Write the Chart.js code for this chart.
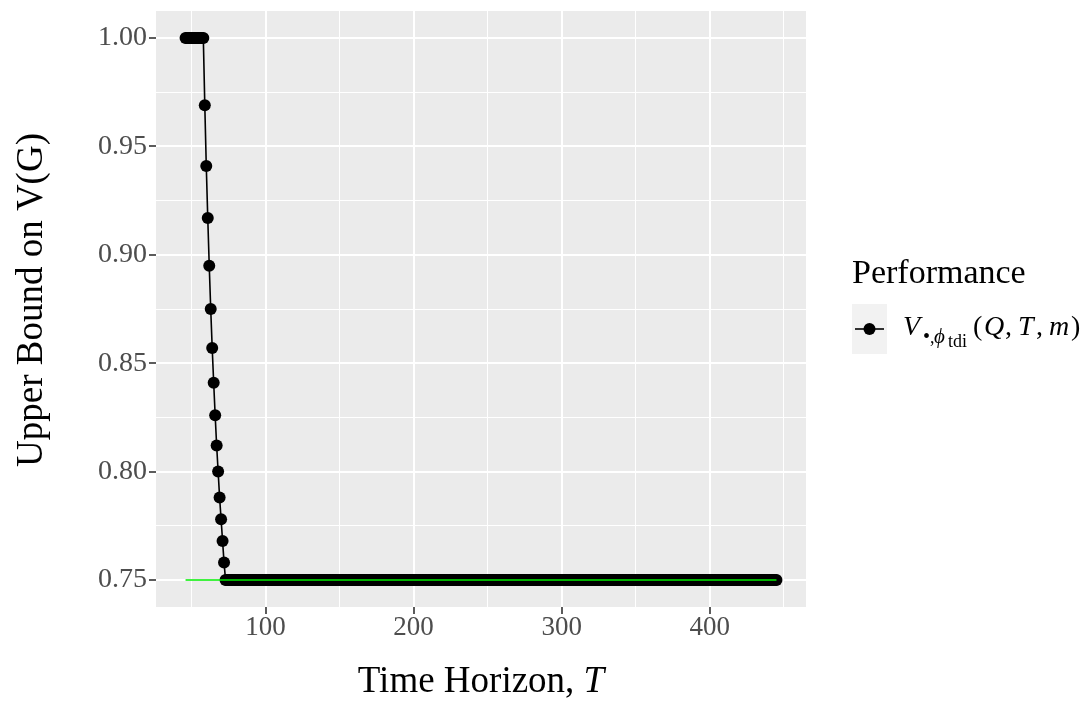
<!DOCTYPE html>
<html>
<head>
<meta charset="utf-8">
<title>Upper Bound on V(G)</title>
<script src="https://cdn.jsdelivr.net/npm/chart.js@4.4.1/dist/chart.umd.min.js"></script>
<style>
  html, body { margin: 0; padding: 0; background: #ffffff; }
  #boundChart { display: block; }
</style>
</head>
<body>
<canvas id="boundChart" width="1090" height="702"></canvas>
<script>
// time horizons T
var horizons = [
    46, 47, 48, 49, 50, 51, 52, 53, 54, 55, 56, 57, 58, 59, 60, 61, 62, 63, 64, 65,
    66, 67, 68, 69, 70, 71, 72, 73, 74, 75, 76, 77, 78, 79, 80, 81, 82, 83, 84, 85,
    86, 87, 88, 89, 90, 91, 92, 93, 94, 95, 96, 97, 98, 99, 100, 101, 102, 103, 104, 105,
    106, 107, 108, 109, 110, 111, 112, 113, 114, 115, 116, 117, 118, 119, 120, 121, 122, 123, 124, 125,
    126, 127, 128, 129, 130, 131, 132, 133, 134, 135, 136, 137, 138, 139, 140, 141, 142, 143, 144, 145,
    146, 147, 148, 149, 150, 151, 152, 153, 154, 155, 156, 157, 158, 159, 160, 161, 162, 163, 164, 165,
    166, 167, 168, 169, 170, 171, 172, 173, 174, 175, 176, 177, 178, 179, 180, 181, 182, 183, 184, 185,
    186, 187, 188, 189, 190, 191, 192, 193, 194, 195, 196, 197, 198, 199, 200, 201, 202, 203, 204, 205,
    206, 207, 208, 209, 210, 211, 212, 213, 214, 215, 216, 217, 218, 219, 220, 221, 222, 223, 224, 225,
    226, 227, 228, 229, 230, 231, 232, 233, 234, 235, 236, 237, 238, 239, 240, 241, 242, 243, 244, 245,
    246, 247, 248, 249, 250, 251, 252, 253, 254, 255, 256, 257, 258, 259, 260, 261, 262, 263, 264, 265,
    266, 267, 268, 269, 270, 271, 272, 273, 274, 275, 276, 277, 278, 279, 280, 281, 282, 283, 284, 285,
    286, 287, 288, 289, 290, 291, 292, 293, 294, 295, 296, 297, 298, 299, 300, 301, 302, 303, 304, 305,
    306, 307, 308, 309, 310, 311, 312, 313, 314, 315, 316, 317, 318, 319, 320, 321, 322, 323, 324, 325,
    326, 327, 328, 329, 330, 331, 332, 333, 334, 335, 336, 337, 338, 339, 340, 341, 342, 343, 344, 345,
    346, 347, 348, 349, 350, 351, 352, 353, 354, 355, 356, 357, 358, 359, 360, 361, 362, 363, 364, 365,
    366, 367, 368, 369, 370, 371, 372, 373, 374, 375, 376, 377, 378, 379, 380, 381, 382, 383, 384, 385,
    386, 387, 388, 389, 390, 391, 392, 393, 394, 395, 396, 397, 398, 399, 400, 401, 402, 403, 404, 405,
    406, 407, 408, 409, 410, 411, 412, 413, 414, 415, 416, 417, 418, 419, 420, 421, 422, 423, 424, 425,
    426, 427, 428, 429, 430, 431, 432, 433, 434, 435, 436, 437, 438, 439, 440, 441, 442, 443, 444, 445
];

// upper bound on V(G), one value per horizon
var boundValues = [
    1.00, 1.00, 1.00, 1.00, 1.00, 1.00, 1.00, 1.00, 1.00, 1.00, 1.00, 1.00, 1.00, 0.969, 0.941, 0.917, 0.895, 0.875, 0.857, 0.841,
    0.826, 0.812, 0.800, 0.788, 0.778, 0.768, 0.758, 0.75, 0.75, 0.75, 0.75, 0.75, 0.75, 0.75, 0.75, 0.75, 0.75, 0.75, 0.75, 0.75,
    0.75, 0.75, 0.75, 0.75, 0.75, 0.75, 0.75, 0.75, 0.75, 0.75, 0.75, 0.75, 0.75, 0.75, 0.75, 0.75, 0.75, 0.75, 0.75, 0.75,
    0.75, 0.75, 0.75, 0.75, 0.75, 0.75, 0.75, 0.75, 0.75, 0.75, 0.75, 0.75, 0.75, 0.75, 0.75, 0.75, 0.75, 0.75, 0.75, 0.75,
    0.75, 0.75, 0.75, 0.75, 0.75, 0.75, 0.75, 0.75, 0.75, 0.75, 0.75, 0.75, 0.75, 0.75, 0.75, 0.75, 0.75, 0.75, 0.75, 0.75,
    0.75, 0.75, 0.75, 0.75, 0.75, 0.75, 0.75, 0.75, 0.75, 0.75, 0.75, 0.75, 0.75, 0.75, 0.75, 0.75, 0.75, 0.75, 0.75, 0.75,
    0.75, 0.75, 0.75, 0.75, 0.75, 0.75, 0.75, 0.75, 0.75, 0.75, 0.75, 0.75, 0.75, 0.75, 0.75, 0.75, 0.75, 0.75, 0.75, 0.75,
    0.75, 0.75, 0.75, 0.75, 0.75, 0.75, 0.75, 0.75, 0.75, 0.75, 0.75, 0.75, 0.75, 0.75, 0.75, 0.75, 0.75, 0.75, 0.75, 0.75,
    0.75, 0.75, 0.75, 0.75, 0.75, 0.75, 0.75, 0.75, 0.75, 0.75, 0.75, 0.75, 0.75, 0.75, 0.75, 0.75, 0.75, 0.75, 0.75, 0.75,
    0.75, 0.75, 0.75, 0.75, 0.75, 0.75, 0.75, 0.75, 0.75, 0.75, 0.75, 0.75, 0.75, 0.75, 0.75, 0.75, 0.75, 0.75, 0.75, 0.75,
    0.75, 0.75, 0.75, 0.75, 0.75, 0.75, 0.75, 0.75, 0.75, 0.75, 0.75, 0.75, 0.75, 0.75, 0.75, 0.75, 0.75, 0.75, 0.75, 0.75,
    0.75, 0.75, 0.75, 0.75, 0.75, 0.75, 0.75, 0.75, 0.75, 0.75, 0.75, 0.75, 0.75, 0.75, 0.75, 0.75, 0.75, 0.75, 0.75, 0.75,
    0.75, 0.75, 0.75, 0.75, 0.75, 0.75, 0.75, 0.75, 0.75, 0.75, 0.75, 0.75, 0.75, 0.75, 0.75, 0.75, 0.75, 0.75, 0.75, 0.75,
    0.75, 0.75, 0.75, 0.75, 0.75, 0.75, 0.75, 0.75, 0.75, 0.75, 0.75, 0.75, 0.75, 0.75, 0.75, 0.75, 0.75, 0.75, 0.75, 0.75,
    0.75, 0.75, 0.75, 0.75, 0.75, 0.75, 0.75, 0.75, 0.75, 0.75, 0.75, 0.75, 0.75, 0.75, 0.75, 0.75, 0.75, 0.75, 0.75, 0.75,
    0.75, 0.75, 0.75, 0.75, 0.75, 0.75, 0.75, 0.75, 0.75, 0.75, 0.75, 0.75, 0.75, 0.75, 0.75, 0.75, 0.75, 0.75, 0.75, 0.75,
    0.75, 0.75, 0.75, 0.75, 0.75, 0.75, 0.75, 0.75, 0.75, 0.75, 0.75, 0.75, 0.75, 0.75, 0.75, 0.75, 0.75, 0.75, 0.75, 0.75,
    0.75, 0.75, 0.75, 0.75, 0.75, 0.75, 0.75, 0.75, 0.75, 0.75, 0.75, 0.75, 0.75, 0.75, 0.75, 0.75, 0.75, 0.75, 0.75, 0.75,
    0.75, 0.75, 0.75, 0.75, 0.75, 0.75, 0.75, 0.75, 0.75, 0.75, 0.75, 0.75, 0.75, 0.75, 0.75, 0.75, 0.75, 0.75, 0.75, 0.75,
    0.75, 0.75, 0.75, 0.75, 0.75, 0.75, 0.75, 0.75, 0.75, 0.75, 0.75, 0.75, 0.75, 0.75, 0.75, 0.75, 0.75, 0.75, 0.75, 0.75
];

// green reference level across the whole horizon range
var floorHorizons = [46, 445];
var floorValues = [0.75, 0.75];

// axis breaks (minor ones only get a thin grid line)
var xMajorTicks = [100, 200, 300, 400];
var xMinorTicks = [50, 150, 250, 350, 450];
var yMajorTicks = [0.75, 0.80, 0.85, 0.90, 0.95, 1.00];
var yMinorTicks = [0.775, 0.825, 0.875, 0.925, 0.975];

var SERIF = '"Liberation Serif", "DejaVu Serif", serif';

function toPoints(xs, ys) {
    return xs.map(function(x, i) { return { x: x, y: ys[i] }; });
}

function isMajor(list, v) {
    return list.indexOf(v) >= 0;
}

function setTicks(major, minor) {
    return function(scale) {
        scale.ticks = major.concat(minor).sort(function(a, b) { return a - b; })
            .map(function(v) { return { value: v }; });
    };
}

// grey panel, axis titles and the legend on the right
var decorations = {
    id: 'decorations',
    beforeDraw: function(chart) {
        var a = chart.chartArea, c = chart.ctx;
        c.save();
        c.fillStyle = '#EBEBEB';
        c.fillRect(a.left, a.top, a.right - a.left, a.bottom - a.top);
        c.restore();
    },
    afterDraw: function(chart) {
        var a = chart.chartArea, c = chart.ctx;
        c.save();
        c.fillStyle = '#000000';
        c.textBaseline = 'alphabetic';

        // x title: "Time Horizon, T"
        c.font = '37px ' + SERIF;
        var w1 = c.measureText('Time Horizon, ').width;
        c.font = 'italic 37px ' + SERIF;
        var w2 = c.measureText('T').width;
        var x0 = (a.left + a.right) / 2 - (w1 + w2) / 2;
        c.font = '37px ' + SERIF;
        c.textAlign = 'left';
        c.fillText('Time Horizon, ', x0, 692);
        c.font = 'italic 37px ' + SERIF;
        c.fillText('T', x0 + w1, 692);

        // y title
        c.save();
        c.translate(42, 300);
        c.rotate(-Math.PI / 2);
        c.font = '37px ' + SERIF;
        c.textAlign = 'center';
        c.fillText('Upper Bound on V(G)', 0, 0);
        c.restore();

        // legend title
        c.font = '34px ' + SERIF;
        c.textAlign = 'left';
        c.fillText('Performance', 852, 283);

        // legend key
        c.fillStyle = '#F2F2F2';
        c.fillRect(852, 304, 35, 50);
        c.strokeStyle = '#000000';
        c.lineWidth = 1.6;
        c.beginPath();
        c.moveTo(855, 329);
        c.lineTo(884, 329);
        c.stroke();
        c.fillStyle = '#000000';
        c.beginPath();
        c.arc(869.5, 329, 6, 0, Math.PI * 2);
        c.fill();

        // legend label V_{•,ϕ_tdi}(Q, T, m)
        var pieces = [
            ['V', 'italic 28px', 903, 335],
            ['\u2022', '20px', 923, 343],
            [',', '18px', 930, 343],
            ['\u03D5', 'italic 21px', 934, 343],
            ['tdi', '18px', 948, 347],
            ['(', '28px', 973, 335],
            ['Q', 'italic 28px', 984, 335],
            [',', '28px', 1005, 335],
            ['T', 'italic 28px', 1018, 335],
            [',', '28px', 1036, 335],
            ['m', 'italic 28px', 1049, 335],
            [')', '28px', 1071, 335]
        ];
        pieces.forEach(function(p) {
            c.font = p[1] + ' ' + SERIF;
            c.fillText(p[0], p[2], p[3]);
        });
        c.restore();
    }
};

// drop the label overhang Chart.js reserves so the panel fills the given box
function fixWidth(w) {
    return function(scale) {
        scale.width = w;
        scale.paddingTop = 0;
        scale.paddingBottom = 0;
    };
}
function fixHeight(h) {
    return function(scale) {
        scale.height = h;
        scale.paddingLeft = 0;
        scale.paddingRight = 0;
    };
}

var ctx = document.getElementById('boundChart').getContext('2d');

var boundChart = new Chart(ctx, {
    type: 'line',
    data: {
        datasets: [{
            label: 'floor',
            data: toPoints(floorHorizons, floorValues),
            borderColor: '#00EE00',
            borderWidth: 1.5,
            pointRadius: 0,
            order: 0
        }, {
            label: 'V',
            data: toPoints(horizons, boundValues),
            borderColor: '#000000',
            borderWidth: 1.6,
            pointRadius: 6,
            pointBackgroundColor: '#000000',
            pointBorderWidth: 0,
            order: 1
        }]
    },
    options: {
        responsive: false,
        animation: false,
        devicePixelRatio: 1,
        layout: { padding: { top: 11, right: 284, bottom: 0, left: 0 } },
        plugins: {
            legend: { display: false },
            tooltip: { enabled: false }
        },
        scales: {
            x: {
                type: 'linear',
                min: 26.05,
                max: 464.95,
                afterBuildTicks: setTicks(xMajorTicks, xMinorTicks),
                afterFit: fixHeight(95),
                border: { display: false },
                grid: {
                    color: '#FFFFFF',
                    lineWidth: function(c) { return isMajor(xMajorTicks, c.tick.value) ? 2 : 1; },
                    tickColor: function(c) { return isMajor(xMajorTicks, c.tick.value) ? '#333333' : 'rgba(0,0,0,0)'; },
                    tickWidth: 1.6,
                    tickLength: 7
                },
                ticks: {
                    autoSkip: false,
                    maxRotation: 0,
                    padding: 0,
                    color: '#4D4D4D',
                    font: { family: SERIF, size: 27, lineHeight: 1 },
                    callback: function(v) { return isMajor(xMajorTicks, v) ? String(v) : ''; }
                }
            },
            y: {
                min: 0.7375,
                max: 1.0125,
                afterBuildTicks: setTicks(yMajorTicks, yMinorTicks),
                afterFit: fixWidth(156),
                border: { display: false },
                grid: {
                    color: '#FFFFFF',
                    lineWidth: function(c) { return isMajor(yMajorTicks, c.tick.value) ? 2 : 1; },
                    tickColor: function(c) { return isMajor(yMajorTicks, c.tick.value) ? '#333333' : 'rgba(0,0,0,0)'; },
                    tickWidth: 1.6,
                    tickLength: 7
                },
                ticks: {
                    autoSkip: false,
                    padding: 2,
                    color: '#4D4D4D',
                    font: { family: SERIF, size: 28, lineHeight: 1 },
                    callback: function(v) { return isMajor(yMajorTicks, v) ? v.toFixed(2) : ''; }
                }
            }
        }
    },
    plugins: [decorations]
});
</script>
</body>
</html>
